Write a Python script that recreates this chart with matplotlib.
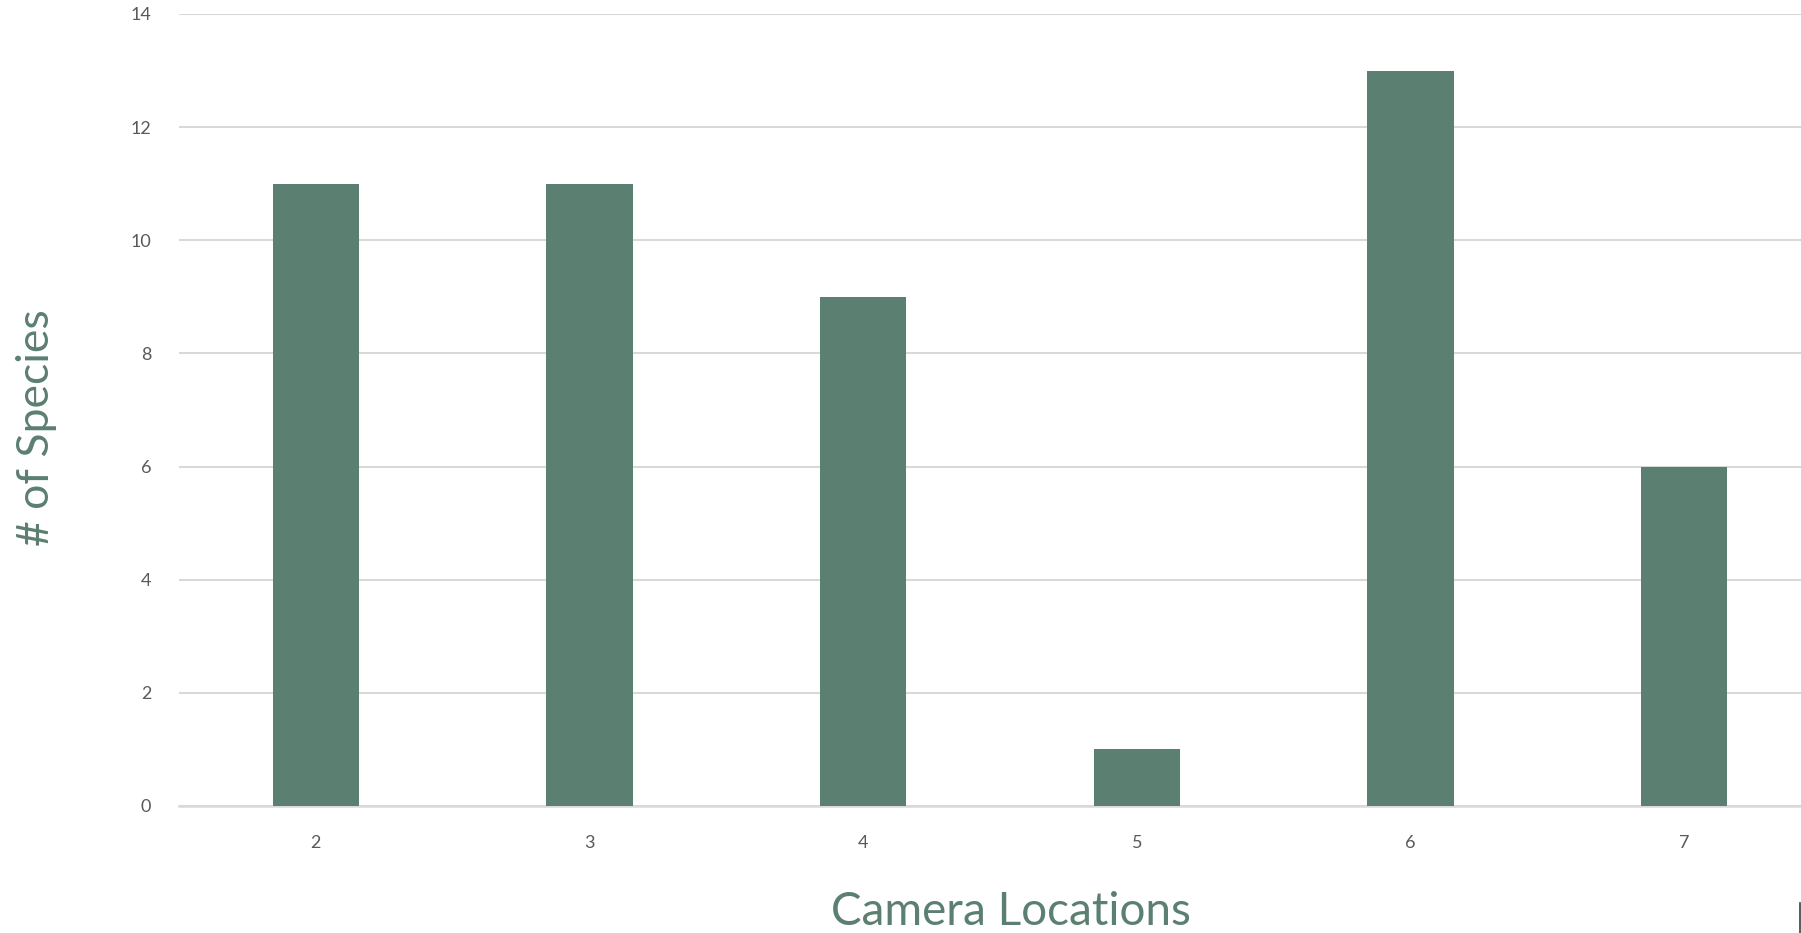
#!/usr/bin/env python3

import numpy as np
import matplotlib
matplotlib.use('Agg')
import matplotlib.pyplot as plt
from matplotlib.lines import Line2D

# camera location ids and species counts
locations = ['2', '3', '4', '5', '6', '7']
species = [11, 11, 9, 1, 13, 6]
y_ticks = [0, 2, 4, 6, 8, 10, 12, 14]

bar_color = '#5B7F70'
title_color = '#5B7F70'
tick_color = '#595959'
grid_color = '#D9D9D9'

plt.rcParams['font.family'] = ['Lato', 'DejaVu Sans']

W, H = 1801, 933
fig = plt.figure(figsize=(W / 100, H / 100), dpi=100)
# the chart runs off the right edge in the reference, so the axes do too
ax = fig.add_axes([179 / W, 1 - 806 / H, 1642 / W, 792 / H])

x = np.arange(len(locations))
ax.bar(x, species, width=0.315, color=bar_color, zorder=3)

ax.set_xlim(-0.5, len(locations) - 0.5)
ax.set_ylim(0, 14)
ax.set_yticks(y_ticks)
ax.set_yticklabels([str(v) for v in y_ticks])
ax.set_xticks(x)
ax.set_xticklabels(locations)

ax.grid(axis='y', color=grid_color, linewidth=1.5, zorder=0)
ax.set_axisbelow(True)
for side in ['top', 'right', 'left']:
    ax.spines[side].set_visible(False)
ax.spines['bottom'].set_color(grid_color)
ax.spines['bottom'].set_linewidth(1.8)

ax.tick_params(axis='both', length=0, labelsize=13, labelcolor=tick_color)
ax.tick_params(axis='y', pad=20)
ax.tick_params(axis='x', pad=21)

# axis titles placed in figure pixels to sit like the reference
fig.text(1011 / W, 1 - 925 / H, 'Camera Locations', fontsize=33,
         color=title_color, ha='center', va='baseline')
fig.text(37 / W, 1 - 428 / H, '# of Species', fontsize=32,
         color=title_color, ha='center', va='center', rotation=90)

# little border stub at the bottom right corner
fig.add_artist(Line2D([1799.5 / W, 1799.5 / W], [0, 30 / H],
                      color='#404040', linewidth=1.2))

fig.savefig('out.png', dpi=100)
